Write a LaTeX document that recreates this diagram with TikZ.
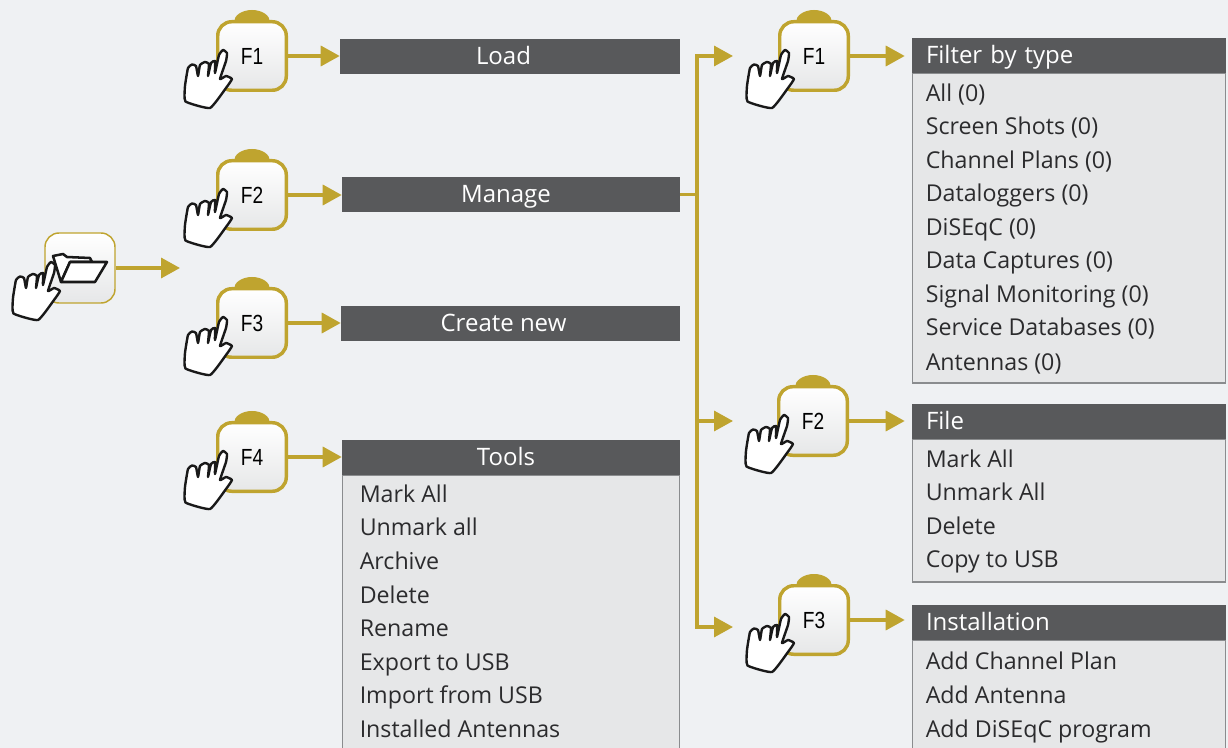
\documentclass[tikz,border=0pt]{standalone}
\usepackage{xcolor}
\usepackage{fontspec}
\setmainfont{Open Sans}
\newfontfamily\keyfont[FakeStretch=0.82]{Liberation Sans}
\usetikzlibrary{arrows.meta, positioning}
\definecolor{pagegrey}{HTML}{EFF1F3}
\definecolor{gold}{HTML}{BFA42F}
\definecolor{bargrey}{HTML}{58595B}
\definecolor{bodygrey}{HTML}{E6E7E8}
\definecolor{edgegrey}{HTML}{8A8C8E}
\definecolor{inkgrey}{HTML}{2B2B2D}
\tikzset{
  flow/.style={draw=gold,line width=2.6pt,-{Triangle[length=14.25pt,width=15pt]}},
  trunk/.style={draw=gold,line width=2.6pt},
  fkey/.style={draw=gold,line width=2.6pt,rounded corners=10.5pt,top color=white,bottom color=bodygrey,
    minimum size=51.4pt,inner sep=0pt,text=black,font=\keyfont\fontsize{17.5}{17.5}\selectfont},
  menubar/.style={fill=bargrey,text=white,inner ysep=0pt,minimum height=26.25pt,text height=16pt,text depth=4pt,
    font=\fontsize{18}{20}\selectfont},
  menuhead/.style={menubar,minimum width=235.5pt,inner xsep=10.5pt,text width=214.5pt,align=left},
  menubody/.style={fill=bodygrey,draw=edgegrey,line width=0.9pt},
  menuitem/.style={anchor=west,inner sep=0pt,text=inkgrey,text height=13pt,text depth=0pt,font=\fontsize{17.4}{20}\selectfont},
  hand/.pic={
    \draw[fill=white,draw=black!90,line width=1.8pt,line join=round]
      plot[smooth cycle,tension=0.25] coordinates {
        (-66.5,45.5) (-67,30) (-64,12) (-60,8.5) (-56,10) (-54,20) (-52,9) (-47,6) (-43,8) (-44,20)
        (-41,7) (-37,5) (-37,17) (-33,-1) (-29,-6) (-25,-3) (-26,5) (-32,23) (-26,20) (-20,23) (-26,32) (-42,52)};
  }
}
\begin{document}
\begin{tikzpicture}[x=0.75pt,y=-0.75pt]
  \useasboundingbox (0,0) rectangle (1228,748);
  \clip (0,0) rectangle (1228,748);
  \fill[pagegrey] (0,0) rectangle (1228,748);

  % folder button
  \node[fkey,line width=1.1pt,minimum size=52.5pt] (folderkey) at (80,268) {};
  \draw[fill=white,draw=black!90,line width=1.9pt,line join=round]
    (61,282) -- (53,256) -- (63,254) -- (67,257) -- (90,258) -- (92,262) -- (70,262) -- cycle;
  \draw[fill=white,draw=black!90,line width=1.9pt,line join=round]
    (70,262) -- (107,262) -- (95,282) -- (61,282) -- cycle;
  \pic at (folderkey) {hand};
  \coordinate (folderend) at (180,268);
  \draw[flow] (folderkey.east) -- (folderend);

  % soft keys
  \foreach \nm/\x/\y/\lab in {leftone/252/56/F1,lefttwo/252/195/F2,leftthree/252/323/F3,leftfour/252/457/F4,
                              rightone/814/56/F1,righttwo/813/421/F2,rightthree/814/620/F3} {
    \fill[gold] (\x-18,\y-34) arc[start angle=180,end angle=360,x radius=18,y radius=12] -- cycle;
    \node[fkey] (\nm) at (\x,\y) {\lab};
    \pic at (\nm) {hand};
  }

  % left column
  \node[menubar,minimum width=255pt] (loadbar) at (510,56.5) {\hspace{-9.75pt}Load};
  \node[menubar,minimum width=253.5pt] (managebar) at (511,194.5) {\hspace{-7.5pt}Manage};
  \node[menubar,minimum width=254.25pt] (createbar) at (510.5,323.5) {\hspace{-10.5pt}Create new};
  \draw[menubody] (342.5,475) rectangle (679.5,760);
  \node[menubar,minimum width=253.5pt] (toolsbar) at (511,457.5) {\hspace{-7.5pt}Tools};
  \foreach \i/\y/\txt in {1/494/Mark All,2/527/Unmark all,3/561/Archive,4/595/Delete,
                          5/628/Rename,6/662/Export to USB,7/695/Import from USB,8/729/Installed Antennas}
    \node[menuitem] (tools\i) at (359.5,\y) {\txt};

  % right column
  \draw[menubody] (912.5,73) rectangle (1225.5,383);
  \node[menuhead] (filterbar) at (1069,55.5) {Filter by type};
  \foreach \i/\y/\txt in {1/93/All (0),2/126/Screen Shots (0),3/160/Channel Plans (0),4/193/Dataloggers (0),
                          5/227/DiSEqC (0),6/260/Data Captures (0),7/294/Signal Monitoring (0),
                          8/327/Service Databases (0),9/362/Antennas (0)}
    \node[menuitem] (filter\i) at (925.5,\y) {\txt};

  \draw[menubody] (912.5,439) rectangle (1225.5,582);
  \node[menuhead] (filebar) at (1069,421.5) {File};
  \foreach \i/\y/\txt in {1/459/Mark All,2/492/Unmark All,3/526/Delete,4/559/Copy to USB}
    \node[menuitem] (file\i) at (925.5,\y) {\txt};

  \draw[menubody] (912.5,640) rectangle (1225.5,760);
  \node[menuhead] (installbar) at (1069,622.5) {Installation};
  \foreach \i/\y/\txt in {1/661/Add Channel Plan,2/695/Add Antenna,3/729/Add DiSEqC program}
    \node[menuitem] (install\i) at (925.5,\y) {\txt};

  % key arrows
  \draw[flow] (leftone.east) -- (leftone.east -| loadbar.west);
  \draw[flow] (lefttwo.east) -- (lefttwo.east -| managebar.west);
  \draw[flow] (leftthree.east) -- (leftthree.east -| createbar.west);
  \draw[flow] (leftfour.east) -- (leftfour.east -| toolsbar.west);
  \draw[flow,shorten >=5.25pt] (rightone.east) -- (rightone.east -| filterbar.west);
  \draw[flow,shorten >=5.25pt] (righttwo.east) -- (righttwo.east -| filebar.west);
  \draw[flow,shorten >=5.25pt] (rightthree.east) -- (rightthree.east -| installbar.west);

  % branch from manage
  \coordinate (branch) at (697,194.5);
  \coordinate (endone) at (733,56);
  \coordinate (endtwo) at (733,421);
  \coordinate (endthree) at (733,627);
  \draw[trunk] (managebar.east) -- (branch);
  \draw[flow] (branch) |- (endone);
  \draw[flow] (branch) |- (endtwo);
  \draw[flow] (branch) |- (endthree);
\end{tikzpicture}
\end{document}
